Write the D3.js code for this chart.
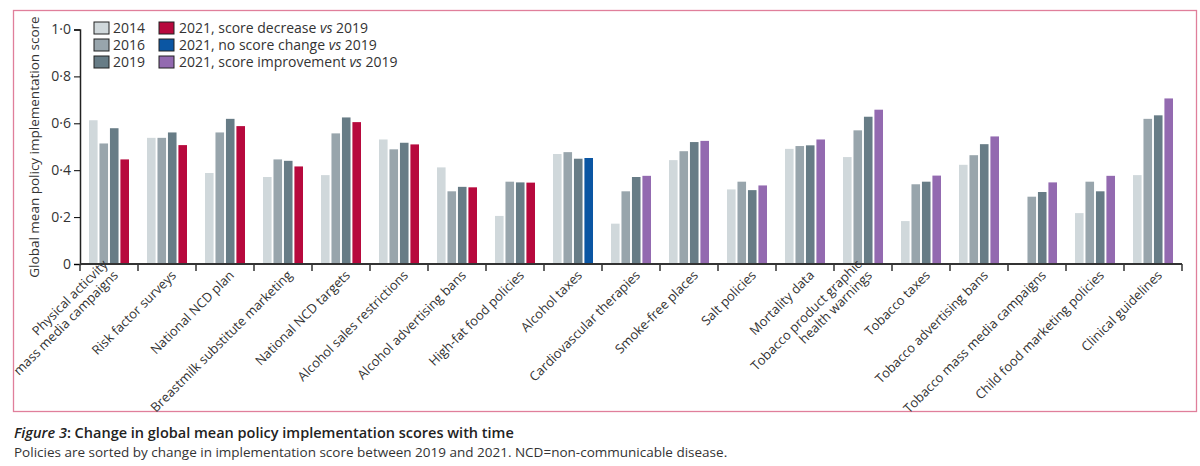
<!DOCTYPE html>
<html><head><meta charset="utf-8">
<script src="https://cdn.jsdelivr.net/npm/d3@7"></script>
<style>body{margin:0;background:#fff;font-family:"Open Sans",sans-serif;}</style>
</head><body><svg id="c" width="1200" height="466"></svg>
<script>
const categories=["Physical acticvity|mass media campaigns","Risk factor surveys","National NCD plan","Breastmilk substitute marketing","National NCD targets","Alcohol sales restrictions","Alcohol advertising bans","High-fat food policies","Alcohol taxes","Cardiovascular therapies","Smoke-free places","Salt policies","Mortality data","Tobacco product graphic|health warnings","Tobacco taxes","Tobacco advertising bans","Tobacco mass media campaigns","Child food marketing policies","Clinical guidelines"];
const v2014=[0.613,0.538,0.388,0.371,0.379,0.531,0.412,0.205,0.469,0.172,0.443,0.318,0.491,0.456,0.183,0.423,null,0.217,0.379];
const v2016=[0.514,0.538,0.561,0.446,0.557,0.489,0.310,0.351,0.477,0.310,0.481,0.351,0.503,0.570,0.340,0.464,0.287,0.351,0.619];
const v2019=[0.579,0.561,0.619,0.440,0.625,0.517,0.329,0.348,0.449,0.371,0.520,0.315,0.506,0.628,0.351,0.511,0.307,0.310,0.634];
const v2021=[0.446,0.507,0.588,0.416,0.605,0.510,0.327,0.347,0.452,0.376,0.525,0.335,0.531,0.658,0.377,0.544,0.348,0.376,0.706];
const change2021=["dec","dec","dec","dec","dec","dec","dec","dec","same","imp","imp","imp","imp","imp","imp","imp","imp","imp","imp"];
const yTicks=[0,0.2,0.4,0.6,0.8,1.0];
const legendLeft=["2014","2016","2019"];
const legendRight=["2021, score decrease vs 2019","2021, no score change vs 2019","2021, score improvement vs 2019"];

const col={y2014:"#d0d8db",y2016:"#98a5ac",y2019:"#677c86",dec:"#b7093d",same:"#0b56a3",imp:"#936ab0"};
const svg=d3.select("#c");
svg.append("rect").attr("x",13.5).attr("y",10.5).attr("width",1183).attr("height",401).attr("fill","none").attr("stroke","#e07f9b").attr("stroke-width",1.3);

const x=d3.scaleBand().domain(categories.map((d,i)=>i)).range([80,1182]);
const y=d3.scaleLinear().domain([0,1]).range([264,29.5]);
const sub=d3.scaleBand().domain([0,1,2,3]).range([9,x.bandwidth()-9]).paddingInner(0.18);

const g=svg.append("g");
categories.forEach((c,i)=>{
  const vals=[[v2014[i],col.y2014],[v2016[i],col.y2016],[v2019[i],col.y2019],[v2021[i],col[change2021[i]]]];
  vals.forEach(([v,cl],k)=>{
    if(v==null)return;
    g.append("rect").attr("x",x(i)+sub(k)).attr("y",y(v)).attr("width",sub.bandwidth()).attr("height",y(0)-y(v)).attr("fill",cl);
  });
});

const ya=svg.append("g").attr("transform","translate(80,0)").call(d3.axisLeft(y).tickValues(yTicks).tickSize(6).tickFormat(d=>d===0?"0":d3.format(".1f")(d).replace(".","·")));
ya.select(".domain").attr("stroke","#222").attr("stroke-width",1.5);
ya.selectAll("text").attr("font-size",14).attr("font-family","Open Sans").attr("fill","#333");
const xa=svg.append("g").attr("transform","translate(0,264)");
xa.append("line").attr("x1",80).attr("x2",1182).attr("y1",0).attr("y2",0).attr("stroke","#333").attr("stroke-width",2);
d3.range(20).forEach(i=>{const xx=i<19?x(i):x(18)+x.bandwidth();xa.append("line").attr("x1",xx).attr("x2",xx).attr("y1",0).attr("y2",7).attr("stroke","#333").attr("stroke-width",1.5);});
categories.forEach((c,i)=>{
  const lines=c.split("|");
  const cx=x(i)+x.bandwidth()/2+10;
  const t=xa.append("text").attr("transform",`translate(${cx},12) rotate(-45)`).attr("text-anchor","end").attr("font-size",13).attr("fill","#333");
  lines.forEach((l,j)=>t.append("tspan").attr("x",0).attr("dy",j===0?-(lines.length-1)*15:15).text(l));
});
svg.append("text").attr("transform","translate(39,147) rotate(-90)").attr("text-anchor","middle").attr("font-size",13.5).attr("fill","#333").text("Global mean policy implementation score");

const lg=svg.append("g");
legendLeft.forEach((t,i)=>{
  lg.append("rect").attr("x",94).attr("y",22+i*17).attr("width",15).attr("height",12).attr("fill",[col.y2014,col.y2016,col.y2019][i]).attr("stroke","#222");
  lg.append("text").attr("x",113).attr("y",33+i*17).attr("font-size",14).attr("fill","#333").text(t);
});
legendRight.forEach((t,i)=>{
  lg.append("rect").attr("x",159).attr("y",22+i*17).attr("width",15).attr("height",12).attr("fill",[col.dec,col.same,col.imp][i]).attr("stroke","#222");
  const tx=lg.append("text").attr("x",179).attr("y",33+i*17).attr("font-size",14).attr("fill","#333");
  const parts=t.split(" vs ");
  tx.append("tspan").text(parts[0]+" ");
  tx.append("tspan").attr("font-style","italic").text("vs");
  tx.append("tspan").text(" "+parts[1]);
});

const cap=svg.append("text").attr("x",14).attr("y",438).attr("font-size",14.5).attr("font-weight",600).attr("fill","#222");
cap.append("tspan").attr("font-style","italic").text("Figure 3");
cap.append("tspan").text(": Change in global mean policy implementation scores with time");
svg.append("text").attr("x",14).attr("y",457).attr("font-size",13.5).attr("fill","#333").text("Policies are sorted by change in implementation score between 2019 and 2021. NCD=non-communicable disease.");
</script></body></html>
